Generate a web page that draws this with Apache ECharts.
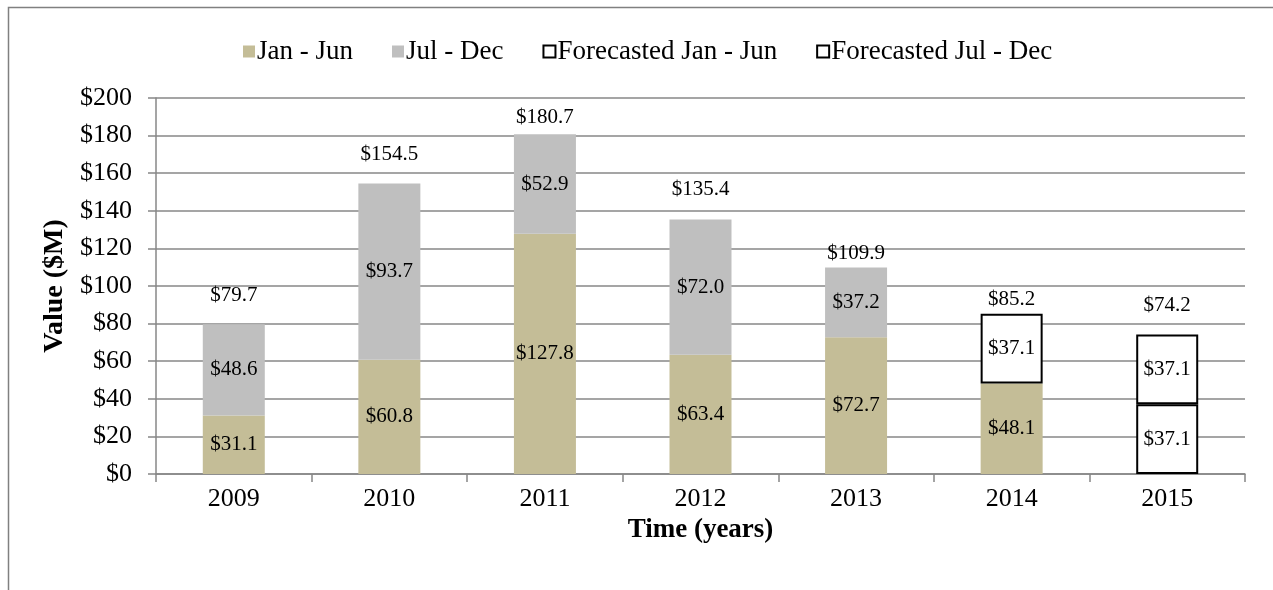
<!DOCTYPE html>
<html>
<head>
<meta charset="utf-8">
<script src="https://cdn.jsdelivr.net/npm/echarts@6/dist/echarts.min.js"></script>
<style>
  html, body { margin: 0; padding: 0; background: #fff; }
  #chart { width: 1273px; height: 590px; }
</style>
</head>
<body>
<div id="chart"></div>
<script>
// Half-year values in $M
const years = ['2009', '2010', '2011', '2012', '2013', '2014', '2015'];
const janJun = [31.1, 60.8, 127.8, 63.4, 72.7, 48.1, null];
const julDec = [48.6, 93.7, 52.9, 72.0, 37.2, null, null];
const forecastJanJun = [null, null, null, null, null, null, 37.1];
const forecastJulDec = [null, null, null, null, null, 37.1, 37.1];
const yearTotals = [79.7, 154.5, 180.7, 135.4, 109.9, 85.2, 74.2];
const yTicks = [0, 20, 40, 60, 80, 100, 120, 140, 160, 180, 200];

// spacing between each total label and the top of its bar (px)
const totalLabelGap = [18, 19, 6, 19, 3, 4, 19];

const FONT = '"Liberation Serif", "Times New Roman", serif';
const GRID_GREY = '#878787';

const money = v => '$' + Number(v).toFixed(1);

const segmentLabel = {
  show: true,
  position: 'inside',
  color: '#000',
  fontFamily: FONT,
  fontSize: 21,
  formatter: p => money(p.value)
};

function barSeries(name, data, itemStyle) {
  return {
    name,
    type: 'bar',
    stack: 'year',
    barWidth: 62,
    data,
    itemStyle,
    label: segmentLabel
  };
}

const chart = echarts.init(document.getElementById('chart'), null, { renderer: 'canvas' });

chart.setOption({
  animation: false,
  backgroundColor: '#fff',
  textStyle: { fontFamily: FONT },
  graphic: [{
    type: 'rect',
    shape: { x: 8.5, y: 7.5, width: 1400, height: 700 },
    style: { fill: null, stroke: '#808080', lineWidth: 1.5 },
    silent: true
  }],
  legend: {
    left: 238,
    top: 33,
    icon: 'rect',
    itemWidth: 12,
    itemHeight: 12,
    itemGap: 39,
    data: ['Jan - Jun', 'Jul - Dec', 'Forecasted Jan - Jun', 'Forecasted Jul - Dec'],
    textStyle: { fontFamily: FONT, fontSize: 27, color: '#000', padding: [0, 0, 0, -3] }
  },
  grid: { left: 156, right: 28, top: 98, bottom: 116 },
  xAxis: {
    type: 'category',
    data: years,
    name: 'Time (years)',
    nameLocation: 'middle',
    nameGap: 35,
    nameTextStyle: { fontFamily: FONT, fontSize: 27, fontWeight: 'bold', color: '#000' },
    axisLine: { lineStyle: { color: GRID_GREY, width: 1.5 } },
    axisTick: { show: true, length: 8, lineStyle: { color: GRID_GREY, width: 1.5 } },
    axisLabel: { fontFamily: FONT, fontSize: 26, color: '#000', margin: 12 }
  },
  yAxis: {
    type: 'value',
    min: yTicks[0],
    max: yTicks[yTicks.length - 1],
    interval: yTicks[1] - yTicks[0],
    name: 'Value ($M)',
    nameLocation: 'middle',
    nameGap: 86,
    nameTextStyle: { fontFamily: FONT, fontSize: 28, fontWeight: 'bold', color: '#000' },
    axisLine: { show: true, lineStyle: { color: GRID_GREY, width: 1.5 } },
    axisTick: { show: true, length: 8, lineStyle: { color: GRID_GREY, width: 1.5 } },
    axisLabel: {
      fontFamily: FONT, fontSize: 26, color: '#000', margin: 24,
      formatter: v => '$' + v
    },
    splitLine: { lineStyle: { color: GRID_GREY, width: 1.5 } }
  },
  series: [
    barSeries('Jan - Jun', janJun, { color: '#C4BD97' }),
    barSeries('Jul - Dec', julDec, { color: '#BFBFBF' }),
    barSeries('Forecasted Jan - Jun', forecastJanJun, { color: '#fff', borderColor: '#000', borderWidth: 2 }),
    barSeries('Forecasted Jul - Dec', forecastJulDec, { color: '#fff', borderColor: '#000', borderWidth: 2 }),
    {
      name: 'Total',
      type: 'scatter',
      symbolSize: 0,
      silent: true,
      itemStyle: { opacity: 1 },
      data: yearTotals.map((v, i) => ({ value: v, label: { distance: totalLabelGap[i] } })),
      label: {
        show: true,
        position: 'top',
        color: '#000',
        opacity: 1,
        fontFamily: FONT,
        fontSize: 21,
        formatter: p => money(p.value)
      },
      z: 5
    }
  ]
});
</script>
</body>
</html>
